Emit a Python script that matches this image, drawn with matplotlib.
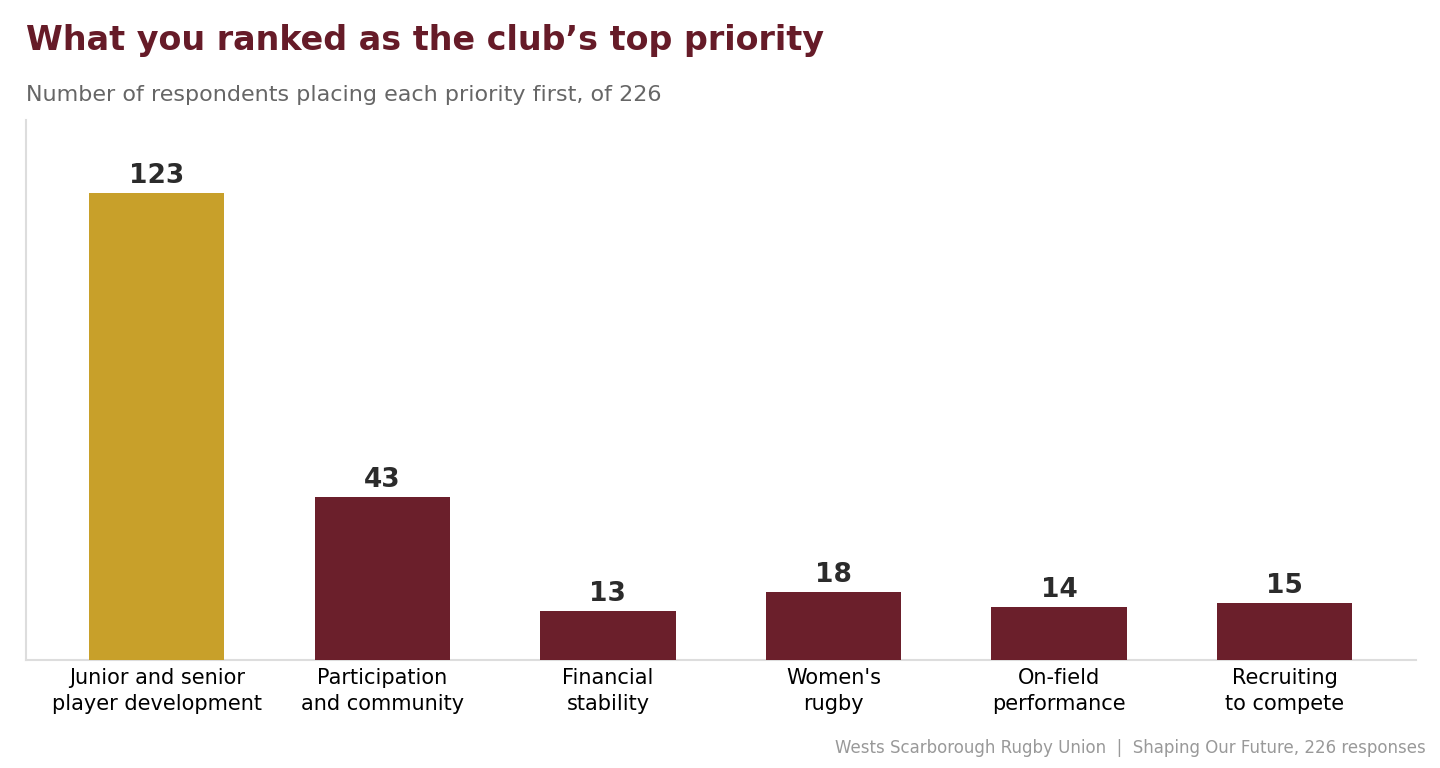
import matplotlib
matplotlib.use("Agg")
import matplotlib.pyplot as plt

categories = ["Junior and senior\nplayer development", "Participation\nand community",
              "Financial\nstability", "Women's\nrugby", "On-field\nperformance", "Recruiting\nto compete"]
counts = [123, 43, 13, 18, 14, 15]
highlight = [True, False, False, False, False, False]

GOLD = "#C8A02A"
MAROON = "#6B1F2B"

fig = plt.figure(figsize=(14.4, 7.68), dpi=100)
ax = fig.add_axes([0.018, 0.1406, 0.965, 0.703])
x = range(len(categories))
cols = [GOLD if h else MAROON for h in highlight]
bars = ax.bar(x, counts, width=0.6, color=cols, zorder=3)
for b, v in zip(bars, counts):
    ax.text(b.get_x() + b.get_width() / 2, v + 1.0, str(v), ha="center", va="bottom",
            fontsize=19, fontweight="bold", color="#2b2b2b")
ax.set_xlim(-0.58, len(categories) - 0.42)
ax.set_ylim(0, 142.2)
ax.set_xticks(list(x))
ax.set_xticklabels(categories, fontsize=15, color="black", linespacing=1.35)
ax.tick_params(axis="x", length=0, pad=6)
ax.set_yticks([])
for s in ("top", "right"):
    ax.spines[s].set_visible(False)
for s in ("left", "bottom"):
    ax.spines[s].set_color("#dddddd")
    ax.spines[s].set_linewidth(1.5)

fig.text(0.018, 0.935, "What you ranked as the club\u2019s top priority", fontsize=24,
         fontweight="bold", color="#661B28", ha="left", va="baseline")
fig.text(0.018, 0.869, "Number of respondents placing each priority first, of 226", fontsize=16,
         color="#666666", ha="left", va="baseline")
fig.text(0.990, 0.019, "Wests Scarborough Rugby Union  |  Shaping Our Future, 226 responses",
         fontsize=12, color="#999999", ha="right", va="baseline")

fig.savefig("out.png", dpi=100, facecolor="white")
